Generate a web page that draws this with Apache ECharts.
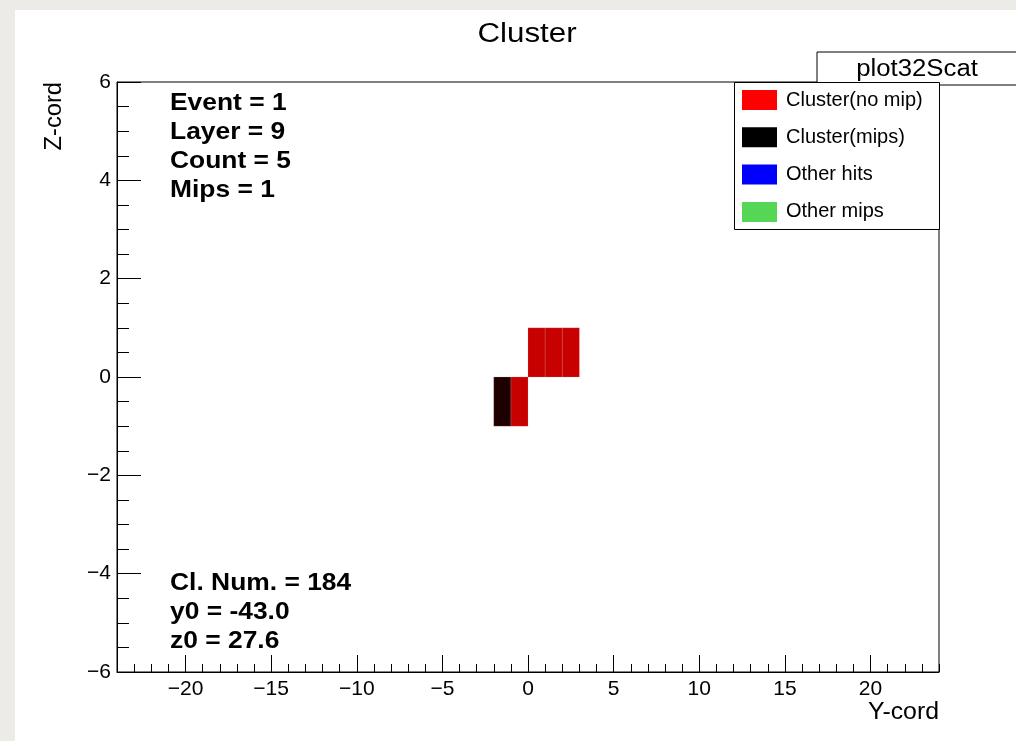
<!DOCTYPE html>
<html>
<head>
<meta charset="utf-8">
<title>Cluster</title>
<script src="https://cdn.jsdelivr.net/npm/echarts@6/dist/echarts.min.js"></script>
<style>
  html, body { margin: 0; padding: 0; background: #ecebe7; }
  #paper { position: absolute; left: 15px; top: 10px; width: 1001px; height: 731px; background: #ffffff; }
  #chart { position: absolute; left: 0; top: 0; width: 1016px; height: 741px; }
</style>
</head>
<body>
<div id="paper"></div>
<div id="chart"></div>
<script>
// Hit cells of the cluster: [Y-cord bin low edge, Z-cord bin low edge]
const noMipCells = [[-1, -1], [0, 0], [1, 0], [2, 0]];
const mipCells = [[-2, -1]];
const otherHits = [];
const otherMips = [];

const seriesNames = ['Cluster(no mip)', 'Cluster(mips)', 'Other hits', 'Other mips'];
const legendColors = ['#ff0000', '#000000', '#0000ff', '#55d655'];
const cellColors = ['#c70000', '#1f0000', '#0000c0', '#40b040'];

const xMajorTicks = [-20, -15, -10, -5, 0, 5, 10, 15, 20];
const infoTop = ['Event = 1', 'Layer = 9', 'Count = 5', 'Mips = 1'];
const infoBottom = ['Cl. Num. = 184', 'y0 = -43.0', 'z0 = 27.6'];

const FONT = '"Liberation Sans", Arial, Helvetica, sans-serif';
const chart = echarts.init(document.getElementById('chart'), null, { renderer: 'canvas' });

const GRID = { left: 117, top: 82, width: 822, height: 590 };
// Helvetica-like text in this canvas runs a little wide
const WIDE = 1.1;

function cellRenderer(fill) {
  return function (params, api) {
    const x = api.value(0), z = api.value(1);
    const p0 = api.coord([x, z]);
    const p1 = api.coord([x + 1, z + 1]);
    return {
      type: 'rect',
      shape: { x: p0[0], y: p1[1], width: p1[0] - p0[0], height: p0[1] - p1[1] },
      style: { fill: fill, stroke: 'rgba(235,130,130,0.2)', lineWidth: 1 }
    };
  };
}

const dataSets = [noMipCells, mipCells, otherHits, otherMips];
const series = seriesNames.map((name, i) => ({
  name: name,
  type: 'custom',
  xAxisIndex: 0,
  yAxisIndex: 0,
  itemStyle: { color: legendColors[i] },
  renderItem: cellRenderer(cellColors[i]),
  encode: { x: 0, y: 1 },
  data: dataSets[i],
  animation: false,
  z: 3
}));

function label(t, x, y, font, align, extra) {
  return Object.assign({
    type: 'text', x: x, y: y, z: 30, scaleX: WIDE,
    style: { text: t, font: font, fill: '#000', textAlign: align, textVerticalAlign: 'middle' }
  }, extra || {});
}

const textEls = [];
infoTop.forEach((t, i) => textEls.push(label(t, 170, 103.5 + i * 29, 'bold 24px ' + FONT, 'left')));
infoBottom.forEach((t, i) => textEls.push(label(t, 170, 583 + i * 29, 'bold 24px ' + FONT, 'left')));

const option = {
  animation: false,
  backgroundColor: 'transparent',
  grid: Object.assign({ show: true, borderColor: '#000', borderWidth: 1, backgroundColor: 'transparent', z: 0 }, GRID),
  xAxis: [
    {
      type: 'value', min: -24, max: 24, position: 'bottom',
      axisLine: { show: true, onZero: false, lineStyle: { color: '#000', width: 1 } },
      axisTick: { show: true, inside: true, length: 17, customValues: xMajorTicks, lineStyle: { color: '#000' } },
      axisLabel: { show: true, customValues: xMajorTicks, margin: 7, color: '#000', fontSize: 21, fontFamily: FONT,
                   formatter: v => String(v).replace('-', '\u2212') },
      splitLine: { show: false }
    },
    {
      type: 'value', min: -24, max: 24, interval: 1, position: 'bottom',
      axisLine: { show: false, onZero: false },
      axisTick: { show: true, inside: true, length: 8, lineStyle: { color: '#000' } },
      axisLabel: { show: false },
      splitLine: { show: false }
    }
  ],
  yAxis: [{
    type: 'value', min: -6, max: 6, interval: 2,
    axisLine: { show: true, onZero: false, lineStyle: { color: '#000', width: 1 } },
    axisTick: { show: true, inside: true, length: 24, lineStyle: { color: '#000' } },
    minorTick: { show: true, splitNumber: 4, length: 12, lineStyle: { color: '#000' } },
    axisLabel: { margin: 6, color: '#000', fontSize: 21, fontFamily: FONT,
                 formatter: v => String(v).replace('-', '\u2212') },
    splitLine: { show: false },
    minorSplitLine: { show: false }
  }],
  legend: {
    orient: 'vertical', left: 734, top: 82, z: 40,
    padding: [8, 10, 8, 8], itemWidth: 35, itemHeight: 20, itemGap: 17.3,
    icon: 'rect', selectedMode: false,
    textStyle: { fontSize: 20, fontFamily: FONT, color: '#000', padding: [0, 0, 0, 4] },
    data: seriesNames
  },
  graphic: [
    label('Cluster', 527, 35, '27px ' + FONT, 'center', { scaleX: 1.16 }),
    { type: 'rect', x: 817, y: 52, z: 20, shape: { x: 0, y: 0, width: 220, height: 33 },
      style: { fill: '#fff', stroke: '#000', lineWidth: 1 } },
    label('plot32Scat', 917, 70, '23px ' + FONT, 'center', { z: 21, scaleX: 1.12 }),
    { type: 'rect', x: 734.5, y: 82.5, z: 25, shape: { x: 0, y: 0, width: 205, height: 147 },
      style: { fill: '#fff', stroke: '#000', lineWidth: 1 } },
    label('Y-cord', 939, 713, '23px ' + FONT, 'right', { scaleX: 1.08 }),
    label('Z-cord', 55, 82, '23px ' + FONT, 'right', { rotation: Math.PI / 2, scaleX: 1.03 })
  ].concat(textEls),
  series: series
};

chart.setOption(option);
</script>
</body>
</html>
